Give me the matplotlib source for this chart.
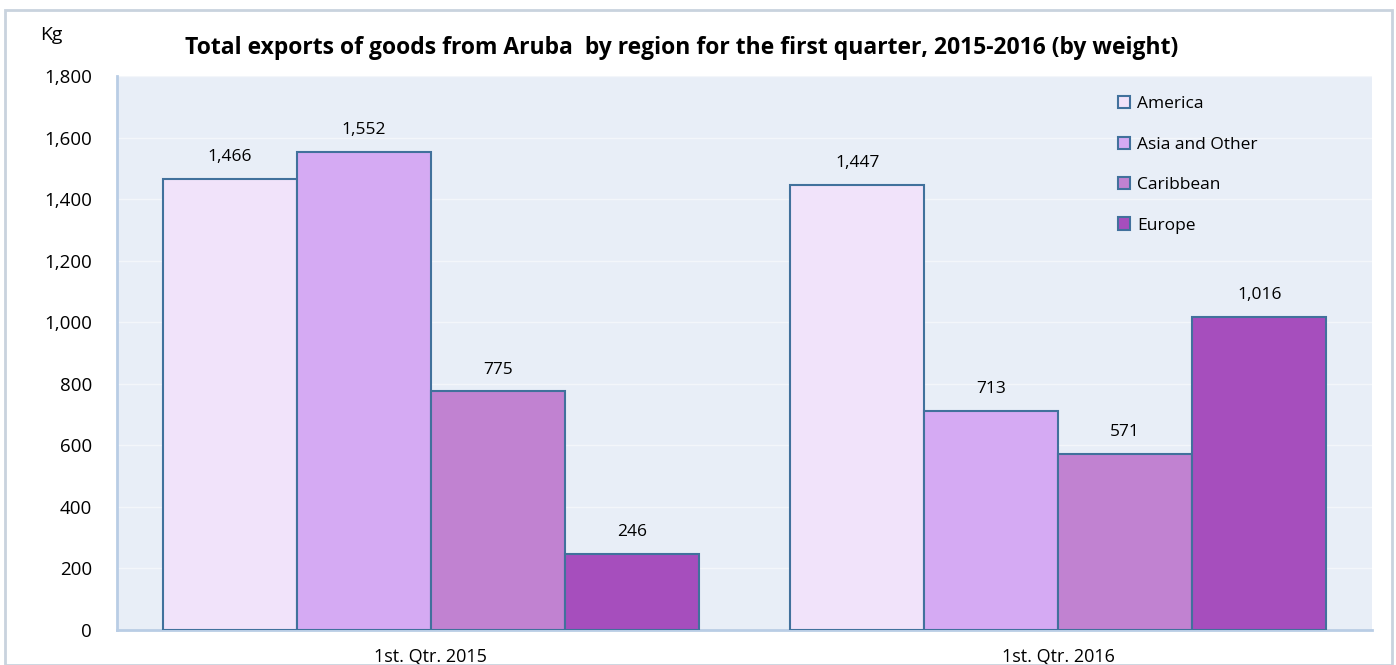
import numpy as np
import matplotlib.pyplot as plt
from matplotlib.patches import Rectangle

# data
quarters = ['1st. Qtr. 2015', '1st. Qtr. 2016']
regions = ['America', 'Asia and Other', 'Caribbean', 'Europe']
america = [1466, 1447]
asia_other = [1552, 713]
caribbean = [775, 571]
europe = [246, 1016]
yticks = [0, 200, 400, 600, 800, 1000, 1200, 1400, 1600, 1800]

series = [america, asia_other, caribbean, europe]
colors = ['#F1E3FA', '#D5AAF3', '#C182D1', '#A64EBD']
edge = '#41719C'

plt.rcParams['font.family'] = ['Open Sans', 'DejaVu Sans']

fig = plt.figure(figsize=(13.96, 6.65), dpi=100)
ax = fig.add_axes([117/1396, 35/665, (1372-117)/1396, (630-76)/665])
ax.set_facecolor('#E8EEF7')

# outer frame of the chart
fig.patches.append(Rectangle((5/1396, 0), (1392-5)/1396, (665-10)/665, transform=fig.transFigure,
                             fill=False, edgecolor='#C9D3DE', linewidth=2))

x = np.arange(len(quarters))
w = 0.2135
for i, (vals, name) in enumerate(zip(series, regions)):
    pos = x + (i - 1.5) * w
    ax.bar(pos, vals, width=w, color=colors[i], edgecolor=edge, linewidth=1.5, label=name, zorder=3)
    for p, v in zip(pos, vals):
        ax.text(p, v + 45, f'{v:,}', ha='center', va='bottom', fontsize=12.5)

ax.set_xlim(-0.5, 1.5)
ax.set_ylim(0, 1800)
ax.set_yticks(yticks)
ax.set_yticklabels([f'{t:,}' for t in yticks], fontsize=13.5)
ax.set_xticks(x)
ax.set_xticklabels(quarters, fontsize=13)
ax.tick_params(axis='y', length=0, pad=18)
ax.tick_params(axis='x', length=0, pad=13)
ax.yaxis.grid(True, color='#F3F6FA', linewidth=1, zorder=0)
for s in ['top', 'right']:
    ax.spines[s].set_visible(False)
for s in ['left', 'bottom']:
    ax.spines[s].set_color('#B9CDE5')
    ax.spines[s].set_linewidth(2)

fig.text(40/1396, 1 - 35/665, 'Kg', fontsize=14, va='center')
fig.text(682/1396, 1 - 48/665, 'Total exports of goods from Aruba  by region for the first quarter, 2015-2016 (by weight)',
         fontsize=16.5, fontweight='bold', ha='center', va='center')

leg = ax.legend(loc='upper left', bbox_to_anchor=(0.785, 0.992), frameon=False, fontsize=12.5,
                handlelength=0.7, handleheight=0.7, handletextpad=0.4, labelspacing=1.4)

fig.savefig('out.png', dpi=100)
